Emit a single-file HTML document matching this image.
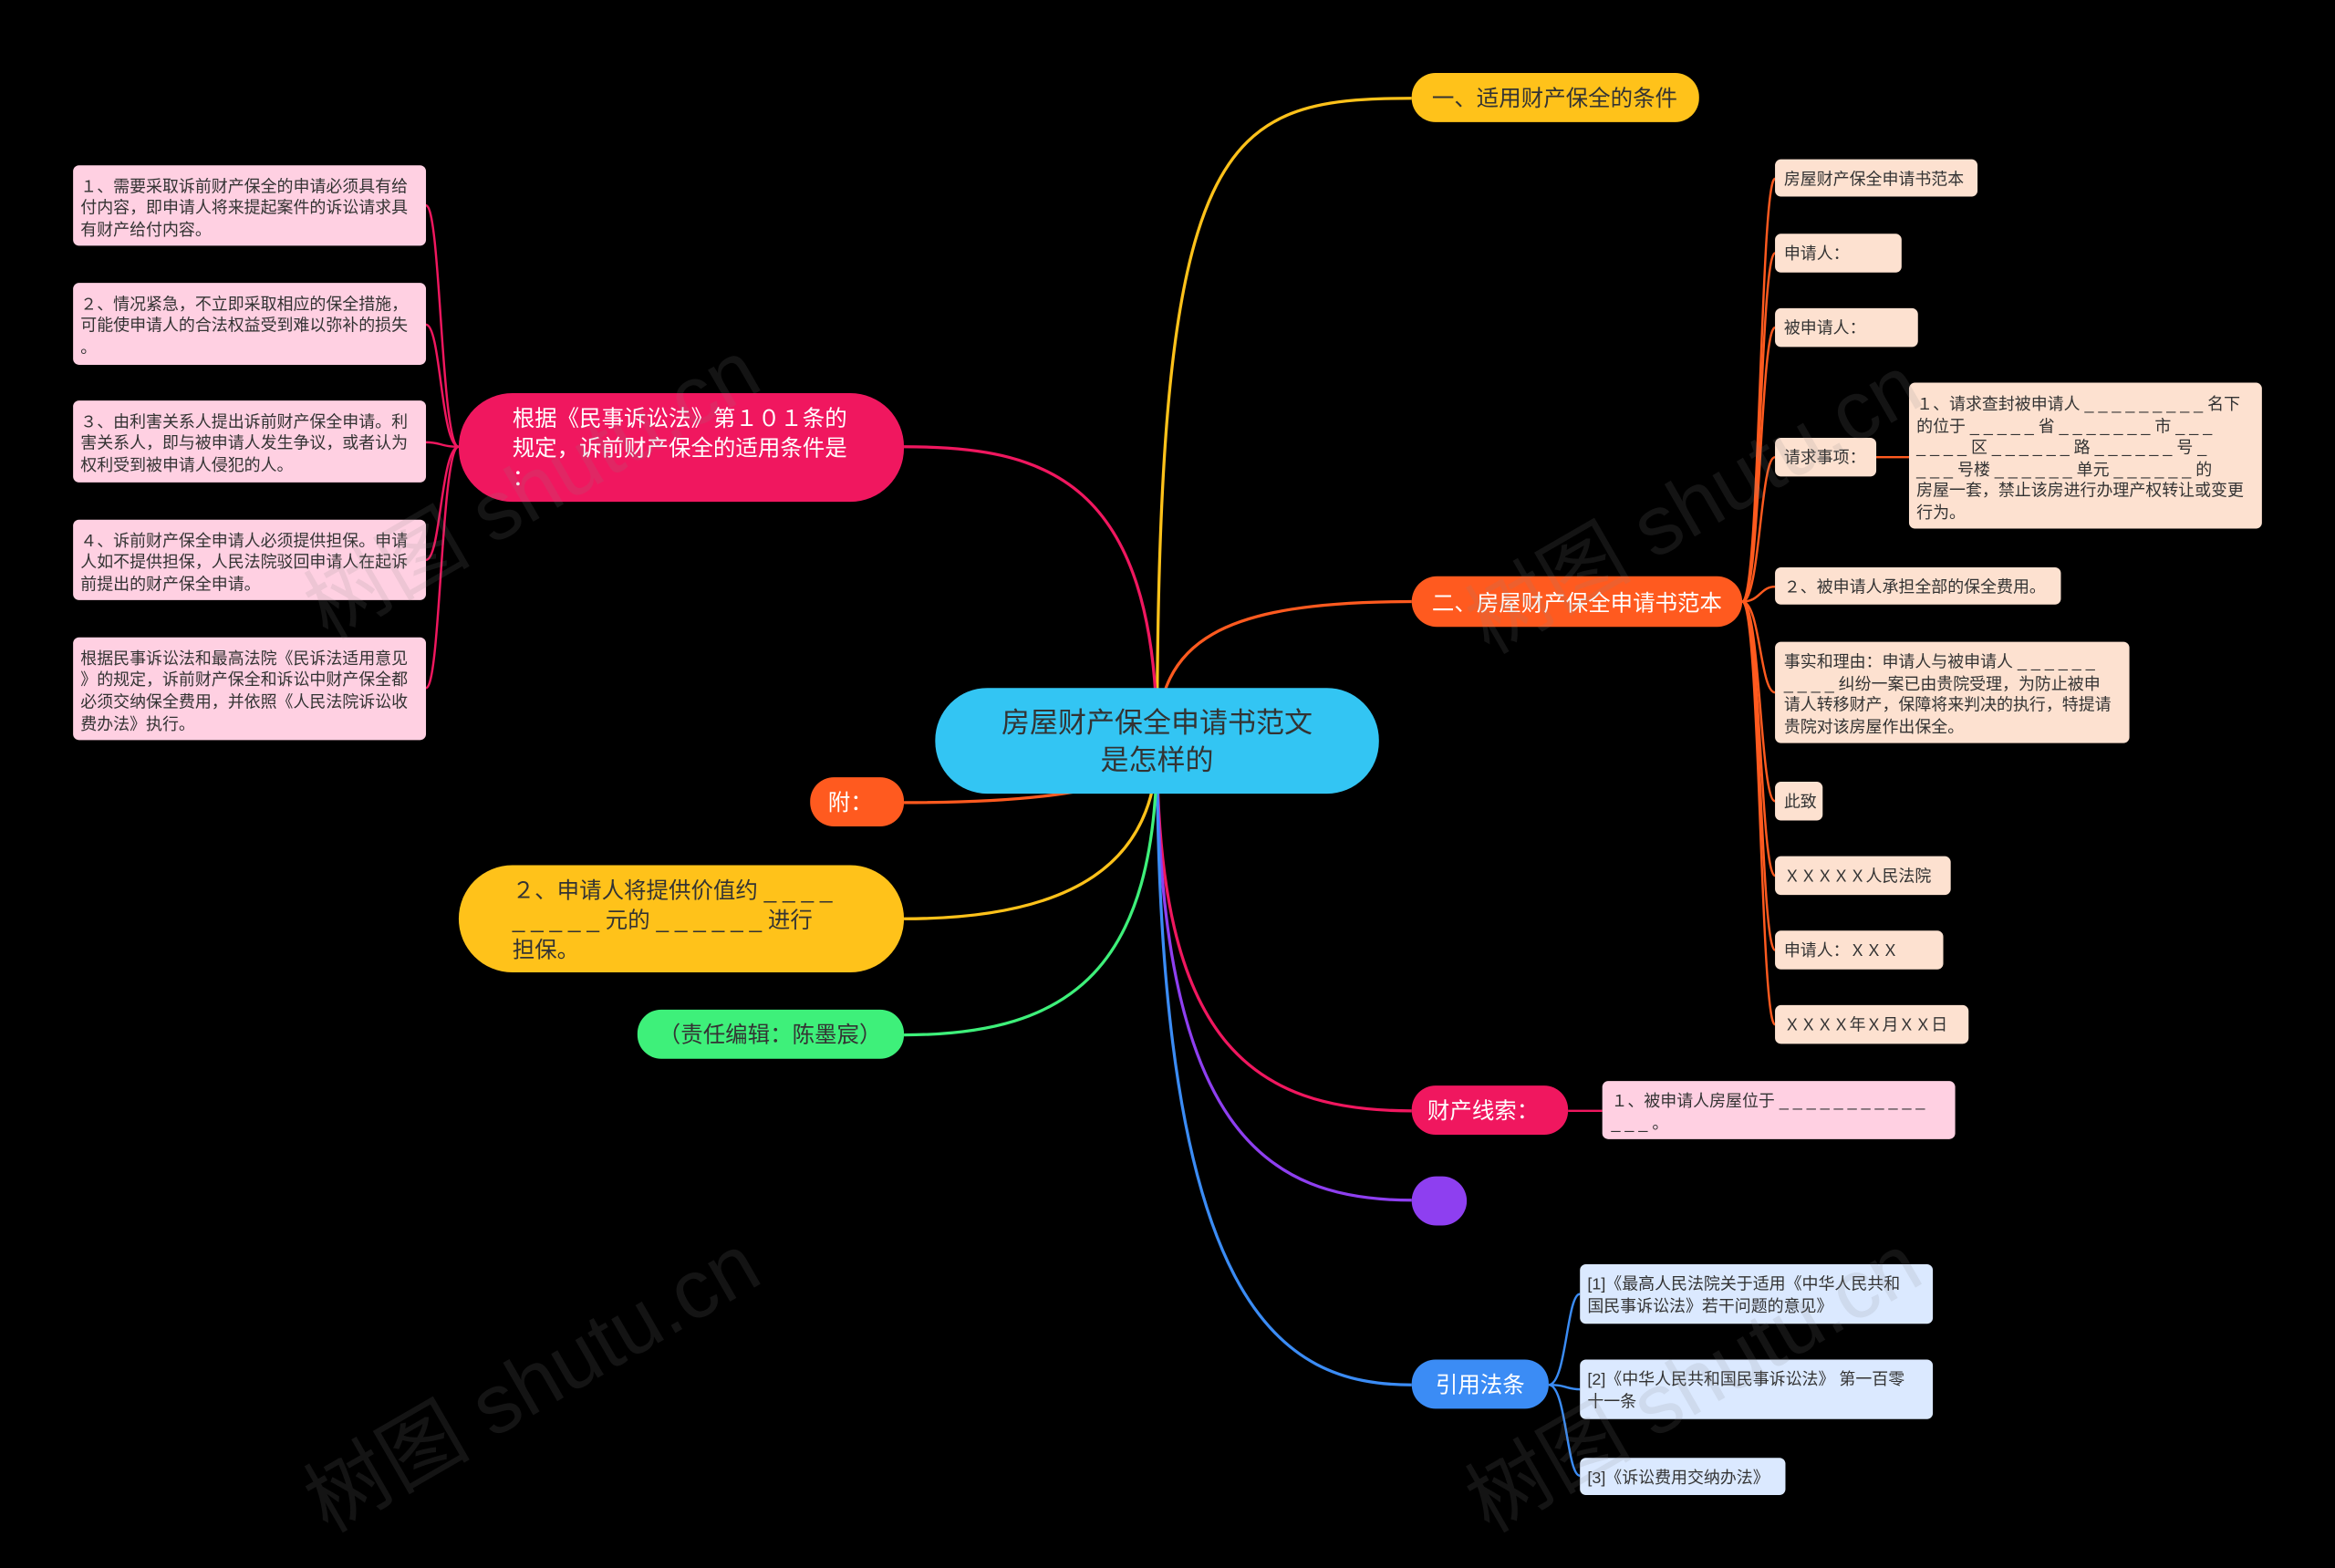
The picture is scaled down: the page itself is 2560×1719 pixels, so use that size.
<!DOCTYPE html>
<html><head><meta charset="utf-8">
<style>
html,body{margin:0;padding:0;background:#000;}
svg{display:block;}
text{font-family:"Liberation Sans","Noto Sans CJK SC",sans-serif;}
</style></head><body>
<svg width="2560" height="1719" viewBox="0 0 1568 1053" xmlns="http://www.w3.org/2000/svg">
<rect width="1568" height="1053" fill="#000"/>
<g fill="none" stroke-width="2">
<path d="M777 500 C777 90 820 66 948 66" stroke="#ffc21a"/>
<path d="M777 500 C777 430 820 404 948 404" stroke="#ff5a1f"/>
<path d="M777 500 C777 700 840 746 948 746" stroke="#f0175f"/>
<path d="M777 500 C777 760 850 806 948 806" stroke="#8e3ff0"/>
<path d="M777 500 C777 880 860 930 948 930" stroke="#3b8cf5"/>
<path d="M777 500 C777 320 700 300 607 300" stroke="#f0175f"/>
<path d="M777 500 C777 530 700 539 607 539" stroke="#ff5a1f"/>
<path d="M777 500 C777 580 720 617 607 617" stroke="#ffc21a"/>
<path d="M777 500 C777 650 720 695 607 695" stroke="#3ef07a"/>
</g>
<g fill="none" stroke="#f0175f" stroke-width="1.5">
<path d="M308 300 C296 300 296 138 286 138"/>
<path d="M308 300 C296 300 296 218 286 218"/>
<path d="M308 300 C296 300 296 297 286 297"/>
<path d="M308 300 C296 300 296 376 286 376"/>
<path d="M308 300 C296 300 296 462 286 462"/>
<path d="M1053 746 L1076 746"/>
</g>
<g fill="none" stroke="#ff5a1f" stroke-width="1.5">
<path d="M1170 404 C1182 404 1182 120 1192 120"/>
<path d="M1170 404 C1182 404 1182 170 1192 170"/>
<path d="M1170 404 C1182 404 1182 220 1192 220"/>
<path d="M1170 404 C1182 404 1182 307 1192 307"/>
<path d="M1170 404 C1182 404 1182 394 1192 394"/>
<path d="M1170 404 C1182 404 1182 465 1192 465"/>
<path d="M1170 404 C1182 404 1182 538 1192 538"/>
<path d="M1170 404 C1182 404 1182 588 1192 588"/>
<path d="M1170 404 C1182 404 1182 638 1192 638"/>
<path d="M1170 404 C1182 404 1182 688 1192 688"/>
<path d="M1260 307 L1282 307"/>
</g>
<g fill="none" stroke="#3b8cf5" stroke-width="1.5">
<path d="M1040 930 C1052 930 1052 869 1061 869"/>
<path d="M1040 930 C1052 930 1052 933 1061 933"/>
<path d="M1040 930 C1052 930 1052 991 1061 991"/>
</g>

<rect x="628" y="462" width="298" height="71" rx="35" fill="#33c5f3"/>
<text x="777" y="492" font-size="19" fill="#333" text-anchor="middle">房屋财产保全申请书范文</text>
<text x="777" y="517" font-size="19" fill="#333" text-anchor="middle">是怎样的</text>

<rect x="948" y="49" width="193" height="33" rx="16" fill="#ffc21a"/>
<text x="1044" y="71" font-size="15" fill="#333" text-anchor="middle">一、适用财产保全的条件</text>
<rect x="948" y="387" width="222" height="34" rx="17" fill="#ff5a1f"/>
<text x="1059" y="410" font-size="15" fill="#fff" text-anchor="middle">二、房屋财产保全申请书范本</text>
<rect x="948" y="729" width="105" height="33" rx="16" fill="#f0175f"/>
<text x="996" y="751" font-size="15" fill="#fff" text-anchor="middle">财产线索：</text>
<rect x="948" y="790" width="37" height="33" rx="16.5" fill="#8e3ff0"/>
<rect x="948" y="913" width="92" height="33" rx="16" fill="#3b8cf5"/>
<text x="994" y="935" font-size="15" fill="#fff" text-anchor="middle">引用法条</text>

<rect x="308" y="264" width="299" height="73" rx="36" fill="#f0175f"/>
<text font-size="15" fill="#fff"><tspan x="344" y="286">根据《民事诉讼法》第１０１条的</tspan><tspan x="344" y="306">规定，诉前财产保全的适用条件是</tspan><tspan x="344" y="326">：</tspan></text>
<rect x="544" y="522" width="63" height="33" rx="16" fill="#ff5a1f"/>
<text x="571" y="544" font-size="15" fill="#fff" text-anchor="middle">附：</text>
<rect x="308" y="581" width="299" height="72" rx="36" fill="#ffc21a"/>
<text font-size="15" fill="#333"><tspan x="344" y="603">２、申请人将提供价值约 _ _ _ _</tspan><tspan x="344" y="623">_ _ _ _ _ 元的 _ _ _ _ _ _ 进行</tspan><tspan x="344" y="643">担保。</tspan></text>
<rect x="428" y="678" width="179" height="33" rx="16" fill="#3ef07a"/>
<text x="517" y="700" font-size="15" fill="#333" text-anchor="middle">（责任编辑：陈墨宸）</text>

<g fill="#ffd0e2">
<rect x="49" y="111" width="237" height="54" rx="4"/>
<rect x="49" y="190" width="237" height="55" rx="4"/>
<rect x="49" y="269" width="237" height="55" rx="4"/>
<rect x="49" y="349" width="237" height="54" rx="4"/>
<rect x="49" y="428" width="237" height="69" rx="4"/>
</g>
<g font-size="11" fill="#333">
<text><tspan x="54" y="129">１、需要采取诉前财产保全的申请必须具有给</tspan><tspan x="54" y="143">付内容，即申请人将来提起案件的诉讼请求具</tspan><tspan x="54" y="158">有财产给付内容。</tspan></text>
<text><tspan x="54" y="208">２、情况紧急，不立即采取相应的保全措施，</tspan><tspan x="54" y="222">可能使申请人的合法权益受到难以弥补的损失</tspan><tspan x="54" y="237">。</tspan></text>
<text><tspan x="54" y="287">３、由利害关系人提出诉前财产保全申请。利</tspan><tspan x="54" y="301">害关系人，即与被申请人发生争议，或者认为</tspan><tspan x="54" y="316">权利受到被申请人侵犯的人。</tspan></text>
<text><tspan x="54" y="367">４、诉前财产保全申请人必须提供担保。申请</tspan><tspan x="54" y="381">人如不提供担保，人民法院驳回申请人在起诉</tspan><tspan x="54" y="396">前提出的财产保全申请。</tspan></text>
<text><tspan x="54" y="446">根据民事诉讼法和最高法院《民诉法适用意见</tspan><tspan x="54" y="460">》的规定，诉前财产保全和诉讼中财产保全都</tspan><tspan x="54" y="475">必须交纳保全费用，并依照《人民法院诉讼收</tspan><tspan x="54" y="490">费办法》执行。</tspan></text>
</g>

<g fill="#fde1d0">
<rect x="1192" y="107" width="136" height="25" rx="4"/>
<rect x="1192" y="157" width="85" height="26" rx="4"/>
<rect x="1192" y="207" width="96" height="26" rx="4"/>
<rect x="1192" y="294" width="68" height="26" rx="4"/>
<rect x="1282" y="257" width="237" height="98" rx="4"/>
<rect x="1192" y="381" width="192" height="25" rx="4"/>
<rect x="1192" y="431" width="238" height="68" rx="4"/>
<rect x="1192" y="525" width="32" height="26" rx="4"/>
<rect x="1192" y="575" width="118" height="26" rx="4"/>
<rect x="1192" y="625" width="113" height="26" rx="4"/>
<rect x="1192" y="675" width="130" height="26" rx="4"/>
</g>
<g fill="#ffd0e2"><rect x="1076" y="726" width="237" height="39" rx="4"/></g>
<g fill="#dbe9ff">
<rect x="1061" y="849" width="237" height="40" rx="4"/>
<rect x="1061" y="913" width="237" height="40" rx="4"/>
<rect x="1061" y="979" width="138" height="25" rx="4"/>
</g>
<g font-size="11" fill="#333">
<text x="1198" y="124">房屋财产保全申请书范本</text>
<text x="1198" y="174">申请人：</text>
<text x="1198" y="224">被申请人：</text>
<text x="1198" y="311">请求事项：</text>
<text><tspan x="1287" y="275">１、请求查封被申请人 _ _ _ _ _ _ _ _ _ 名下</tspan><tspan x="1287" y="290">的位于 _ _ _ _ _ 省 _ _ _ _ _ _ _ 市 _ _ _</tspan><tspan x="1287" y="304">_ _ _ _ 区 _ _ _ _ _ _ 路 _ _ _ _ _ _ 号 _</tspan><tspan x="1287" y="319">_ _ _ 号楼 _ _ _ _ _ _ 单元 _ _ _ _ _ _ 的</tspan><tspan x="1287" y="333">房屋一套，禁止该房进行办理产权转让或变更</tspan><tspan x="1287" y="348">行为。</tspan></text>
<text x="1198" y="398">２、被申请人承担全部的保全费用。</text>
<text><tspan x="1198" y="448">事实和理由：申请人与被申请人 _ _ _ _ _ _</tspan><tspan x="1198" y="463">_ _ _ _ 纠纷一案已由贵院受理，为防止被申</tspan><tspan x="1198" y="477">请人转移财产，保障将来判决的执行，特提请</tspan><tspan x="1198" y="492">贵院对该房屋作出保全。</tspan></text>
<text x="1198" y="542">此致</text>
<text x="1198" y="592">ＸＸＸＸＸ人民法院</text>
<text x="1198" y="642">申请人：ＸＸＸ</text>
<text x="1198" y="692">ＸＸＸＸ年Ｘ月ＸＸ日</text>
<text><tspan x="1082" y="743">１、被申请人房屋位于 _ _ _ _ _ _ _ _ _ _ _</tspan><tspan x="1082" y="758">_ _ _ 。</tspan></text>
<text><tspan x="1066" y="866">[1]《最高人民法院关于适用《中华人民共和</tspan><tspan x="1066" y="881">国民事诉讼法》若干问题的意见》</tspan></text>
<text><tspan x="1066" y="930">[2]《中华人民共和国民事诉讼法》 第一百零</tspan><tspan x="1066" y="945">十一条</tspan></text>
<text x="1066" y="996">[3]《诉讼费用交纳办法》</text>
</g>

<g font-size="56" fill="#888" fill-opacity="0.15" font-family="Liberation Serif,Noto Serif CJK SC,serif">
<text transform="translate(220,430) rotate(-30)">树图 shutu.cn</text>
<text transform="translate(1000,440) rotate(-30)">树图 shutu.cn</text>
<text transform="translate(220,1030) rotate(-30)">树图 shutu.cn</text>
<text transform="translate(1000,1030) rotate(-30)">树图 shutu.cn</text>
</g>
</svg>
</body></html>
